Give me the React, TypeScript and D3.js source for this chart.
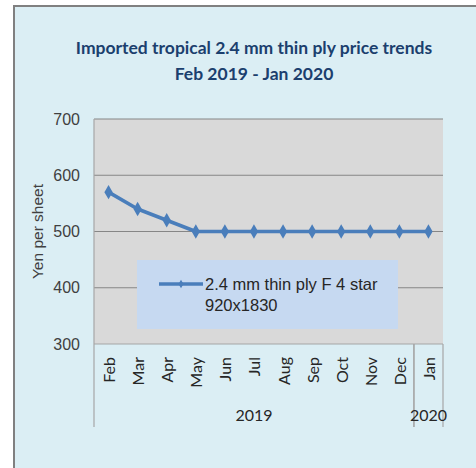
import React from 'react';
import * as d3 from 'd3';

const months = ["Feb", "Mar", "Apr", "May", "Jun", "Jul", "Aug", "Sep", "Oct", "Nov", "Dec", "Jan"];
const monthYears = ["2019", "2019", "2019", "2019", "2019", "2019", "2019", "2019", "2019", "2019", "2019", "2020"];
const prices = [570, 540, 520, 500, 500, 500, 500, 500, 500, 500, 500, 500];
const yTicks = [300, 400, 500, 600, 700];
const seriesName = ["2.4 mm thin ply F 4 star", "920x1830"];
const titleLines = ["Imported tropical 2.4 mm thin ply price trends", "Feb 2019 - Jan 2020"];

const W = 476;
const H = 468;
const margin = { top: 119, right: 33, bottom: 124, left: 94 };
const lineColor = "#4a7ebb";

export default function App() {
  const x = d3.scaleBand()
    .domain(months)
    .range([margin.left, W - margin.right])
    .padding(0);

  const y = d3.scaleLinear()
    .domain([300, 700])
    .range([H - margin.bottom, margin.top]);

  const cx = (m: string) => (x(m) as number) + x.bandwidth() / 2;

  const line = d3.line<number>()
    .x((d, i) => cx(months[i]))
    .y(d => y(d));

  const diamond = d3.symbol().type(d3.symbolDiamond).size(60);
  const smallDiamond = d3.symbol().type(d3.symbolDiamond).size(22);

  // year groups along the category axis
  const groups = d3.groups(months.map((m, i) => ({ m, yr: monthYears[i] })), d => d.yr)
    .map(([yr, items]) => ({
      yr,
      x0: x(items[0].m) as number,
      x1: (x(items[items.length - 1].m) as number) + x.bandwidth()
    }));

  const plotBottom = y(300);
  const groupBottom = 427;

  return (
    <svg width={W} height={H} style={{ position: "absolute", left: 0, top: 0 }}>
      <rect x={0} y={0} width={W} height={H} fill="#ffffff" />
      <rect x={14} y={6} width={W + 20} height={H + 20} fill="#dbeef4" stroke="#808080" strokeWidth={2} />

      <g fontFamily="Lato, sans-serif" fontWeight="bold" fontSize={17.5} fill="#1b3f6e" textAnchor="middle">
        {titleLines.map((t, i) => (
          <text key={t} x={254} y={54 + i * 26}>{t}</text>
        ))}
      </g>

      <rect x={margin.left} y={margin.top} width={W - margin.right - margin.left}
        height={plotBottom - margin.top} fill="#d9d9d9" />

      {yTicks.map(t => (
        <line key={t} x1={margin.left} x2={W - margin.right} y1={y(t)} y2={y(t)}
          stroke={t === 300 ? "#a6a6a6" : "#868686"} strokeWidth={1.2} />
      ))}
      <line x1={margin.left} x2={margin.left} y1={margin.top} y2={plotBottom} stroke="#a6a6a6" strokeWidth={1.2} />

      <g fontFamily="'Liberation Sans', Arial, sans-serif" fontSize={16} fill="#404040" textAnchor="end">
        {yTicks.map(t => (
          <text key={t} x={80} y={y(t)} dy="0.35em">{t}</text>
        ))}
      </g>
      <text transform={`translate(37,${(margin.top + plotBottom) / 2}) rotate(-90)`}
        fontFamily="'Liberation Sans', Arial, sans-serif" fontSize={15.5} fill="#404040"
        textAnchor="middle" dominantBaseline="central">Yen per sheet</text>

      <g fontFamily="Lato, sans-serif" fontSize={16} fill="#262626">
        {months.map(m => (
          <text key={m} transform={`translate(${cx(m)},357) rotate(-90)`}
            textAnchor="end" dominantBaseline="central">{m}</text>
        ))}
      </g>

      {groups.map(g => (
        <g key={g.yr}>
          <line x1={g.x0} x2={g.x0} y1={plotBottom} y2={groupBottom} stroke="#a6a6a6" strokeWidth={1.2} />
          <line x1={g.x1} x2={g.x1} y1={plotBottom} y2={groupBottom} stroke="#a6a6a6" strokeWidth={1.2} />
          <text x={(g.x0 + g.x1) / 2} y={421} textAnchor="middle"
            fontFamily="Lato, sans-serif" fontSize={16} fill="#262626">{g.yr}</text>
        </g>
      ))}

      <rect x={137} y={260} width={261} height={69} fill="#c6d9f1" />
      <line x1={159} x2={203} y1={284} y2={284} stroke={lineColor} strokeWidth={3.5} />
      <path d={smallDiamond() as string} transform="translate(181,284)" fill={lineColor} />
      <g fontFamily="'Liberation Sans', Arial, sans-serif" fontSize={16.5} fill="#262626">
        {seriesName.map((s, i) => (
          <text key={s} x={205} y={290 + i * 20.5}>{s}</text>
        ))}
      </g>

      <path d={line(prices) as string} fill="none" stroke={lineColor} strokeWidth={3.5} strokeLinejoin="round" />
      {prices.map((p, i) => (
        <path key={i} d={diamond() as string} transform={`translate(${cx(months[i])},${y(p)})`} fill={lineColor} />
      ))}
    </svg>
  );
}
